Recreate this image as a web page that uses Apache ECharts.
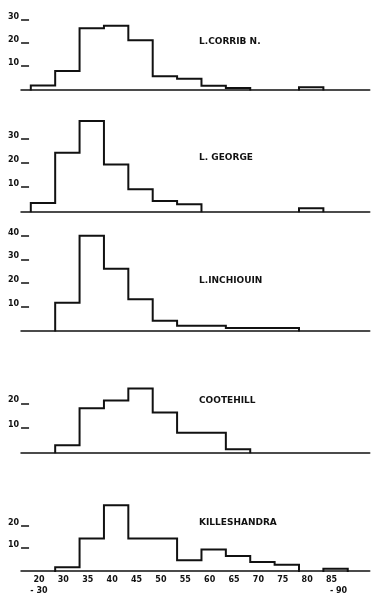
<!DOCTYPE html>
<html>
<head>
<meta charset="utf-8">
<script src="https://cdn.jsdelivr.net/npm/echarts@6/dist/echarts.min.js"></script>
<style>
html,body{margin:0;padding:0;background:#fff;}
#chart{width:380px;height:596px;}
</style>
</head>
<body>
<div id="chart"></div>
<script>
// Length classes (bins): 20-30, 30, 35, ... 80, 85-90
const binLabels = ['20\n- 30', '30', '35', '40', '45', '50', '55', '60', '65', '70', '75', '80', '85\n\u00a0\u00a0\u00a0\u00a0\u00a0- 90'];

const lakeNames = ['L.CORRIB N.', 'L. GEORGE', 'L.INCHIOUIN', 'COOTEHILL', 'KILLESHANDRA'];

const corribN      = [1.7, 7.9, 26.3, 27.4, 21.1, 5.7, 4.6, 1.6, 0.6, 0, 0, 1.0, 0];
const george       = [3.4, 24.2, 37.3, 19.3, 9.1, 4.3, 2.9, 0, 0, 0, 0, 1.3, 0];
const inchiquin    = [0, 11.7, 40.0, 26.0, 13.2, 4.1, 2.0, 2.0, 1.1, 1.1, 1.1, 0, 0];
const cootehill    = [0, 2.9, 18.0, 21.1, 26.0, 16.2, 8.0, 8.0, 1.2, 0, 0, 0, 0];
const killeshandra = [0, 1.7, 14.3, 28.9, 14.3, 14.3, 4.7, 9.4, 6.6, 3.9, 2.7, 0, 1.0];

const yTicks1 = [10, 20, 30];
const yTicks2 = [10, 20, 30];
const yTicks3 = [10, 20, 30, 40];
const yTicks4 = [10, 20];
const yTicks5 = [10, 20];

const seriesValues = [corribN, george, inchiquin, cootehill, killeshandra];
const yTickSets = [yTicks1, yTicks2, yTicks3, yTicks4, yTicks5];

// layout (pixels) per panel
const panels = [
  {top: 19.6, height: 69.9, max: 30, titleTop: 37.5},
  {top: 119.3, height: 92.0, max: 38, titleTop: 153.5},
  {top: 233.3, height: 97.2, max: 41, titleTop: 276},
  {top: 386.1, height: 66.2, max: 27, titleTop: 396},
  {top: 502.7, height: 70.0, max: 30, titleTop: 518}
];

const FONT = 'DejaVu Sans';
const INK = '#111';

// histogram outline: step envelope over each run of non-empty classes
function outline(vals) {
  const pts = [];
  let open = false;
  vals.forEach(function (v, i) {
    if (v > 0) {
      if (!open) { pts.push([i, 0]); open = true; }
      pts.push([i, v]); pts.push([i + 1, v]);
    } else {
      if (open) { pts.push([i, 0]); open = false; }
      pts.push([i + 0.5, '-']);
    }
  });
  if (open) pts.push([vals.length, 0]);
  return pts;
}

const grids = [], xAxes = [], yAxes = [], series = [], titles = [];
panels.forEach(function (p, k) {
  grids.push({left: 21.05, right: 10.3, top: p.top, height: p.height, containLabel: false});
  const isBottom = k === panels.length - 1;
  xAxes.push({
    type: 'value', gridIndex: k, min: -0.4, max: 13.9, interval: 0.1,
    axisLine: {show: true, onZero: true, lineStyle: {color: INK, width: 1.6}},
    axisTick: {show: false},
    splitLine: {show: false},
    axisLabel: {
      show: isBottom, color: INK, fontFamily: FONT, fontWeight: 'bold', fontSize: 8,
      lineHeight: 11, margin: 3, padding: [0, 8, 0, 0], align: 'center',
      showMinLabel: false, showMaxLabel: false,
      formatter: function (v) {
        const q = v - 0.5; const i = Math.round(q);
        if (Math.abs(q - i) < 0.01 && i >= 0 && i < binLabels.length) return binLabels[i];
        return '';
      }
    }
  });
  yAxes.push({
    type: 'value', gridIndex: k, min: 0, max: p.max, interval: 10,
    axisLine: {show: false, onZero: false},
    splitLine: {show: false},
    axisTick: {show: true, inside: true, length: 8, customValues: yTickSets[k], lineStyle: {color: INK, width: 1.5}},
    axisLabel: {
      show: true, customValues: yTickSets[k], color: INK, fontFamily: FONT, fontWeight: 'bold',
      fontSize: 8, margin: 2, verticalAlign: 'bottom', lineHeight: 6
    }
  });
  series.push({
    type: 'line', xAxisIndex: k, yAxisIndex: k, data: outline(seriesValues[k]),
    showSymbol: false, symbol: 'none', clip: false, connectNulls: false,
    lineStyle: {color: INK, width: 2, join: 'miter', cap: 'square'}
  });
  titles.push({
    text: lakeNames[k], left: 199, top: p.titleTop, padding: 0,
    textStyle: {color: INK, fontFamily: FONT, fontWeight: 'bold', fontSize: 9}
  });
});

const chart = echarts.init(document.getElementById('chart'), null, {renderer: 'canvas'});
chart.setOption({
  animation: false,
  backgroundColor: '#fff',
  title: titles,
  grid: grids,
  xAxis: xAxes,
  yAxis: yAxes,
  series: series
});
</script>
</body>
</html>
